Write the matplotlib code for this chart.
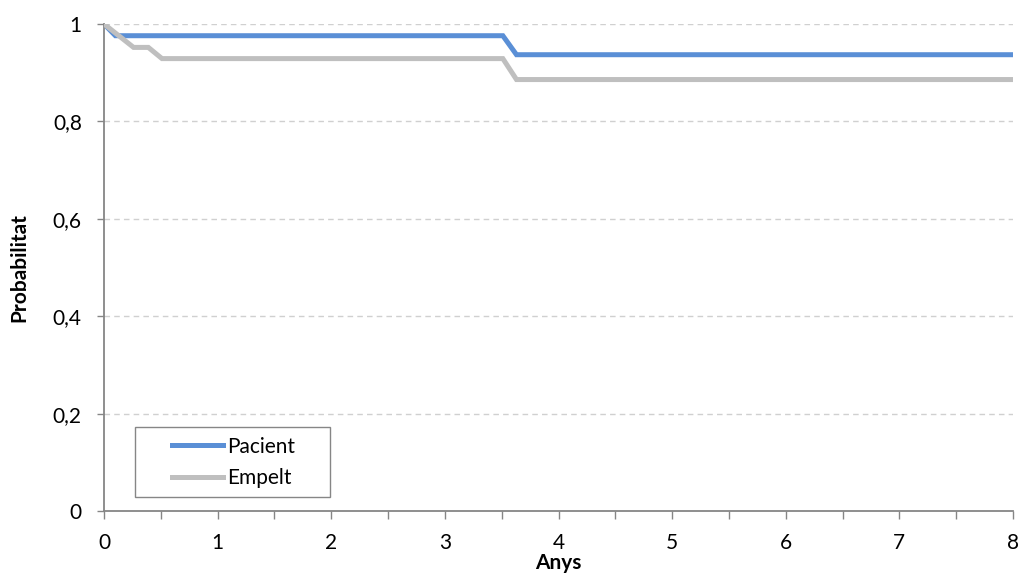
import numpy as np
import matplotlib.pyplot as plt
from matplotlib.patches import Rectangle

plt.rcParams['font.family'] = ['Lato', 'DejaVu Sans']

# Survival curves
pacient_x = [0, 0.1, 3.51, 3.63, 8]
pacient_y = [1, 0.976, 0.976, 0.937, 0.937]
empelt_x = [0, 0.26, 0.39, 0.51, 3.51, 3.63, 8]
empelt_y = [1, 0.952, 0.952, 0.929, 0.929, 0.886, 0.886]

x_ticks = [0, 1, 2, 3, 4, 5, 6, 7, 8]
y_ticks = [0, 0.2, 0.4, 0.6, 0.8, 1]
y_labels = ['0', '0,2', '0,4', '0,6', '0,8', '1']

axis_grey = '#868686'
fs = 15

fig = plt.figure(figsize=(10.22, 5.79), dpi=100)
ax = fig.add_axes([0.1018, 0.1174, 0.8894, 0.8411])

# grid first so lines sit on top
for v in y_ticks[1:]:
    ax.axhline(v, color='#d0d0d0', lw=1, ls=(0, (4, 3)), zorder=0)

ax.plot(pacient_x, pacient_y, color='#5a8fd6', lw=3.6, label='Pacient',
        solid_joinstyle='miter', zorder=2)
ax.plot(empelt_x, empelt_y, color='#bfbfbf', lw=3.6, label='Empelt',
        solid_joinstyle='miter', zorder=3)

ax.set_xlim(0, 8)
ax.set_ylim(0, 1)
ax.set_xticks(x_ticks)
ax.set_xticks(np.arange(0.5, 8, 1), minor=True)
ax.set_yticks(y_ticks)
ax.set_yticklabels(y_labels)

for s in ['top', 'right']:
    ax.spines[s].set_visible(False)
for s in ['left', 'bottom']:
    ax.spines[s].set_color(axis_grey)
    ax.spines[s].set_linewidth(1.3)

ax.tick_params(axis='x', which='both', direction='out', length=6, width=1,
               color=axis_grey, labelsize=fs, pad=10)
ax.tick_params(axis='y', direction='out', length=5, width=1,
               color=axis_grey, labelsize=fs, pad=11)

ax.set_xlabel('Anys', fontsize=fs, fontweight='bold', labelpad=0)
ax.set_ylabel('Probabilitat', fontsize=fs, fontweight='bold', labelpad=17)

# legend box like the spreadsheet one
ax.add_patch(Rectangle((0.0341, 0.0287), 0.2145, 0.1437, transform=ax.transAxes,
                       fill=True, facecolor='white', edgecolor=axis_grey,
                       lw=1, zorder=4))
leg = ax.legend(loc='upper left', bbox_to_anchor=(0.0748, 0.153), frameon=False,
                borderpad=0, borderaxespad=0, handlelength=2.45,
                handletextpad=0.2, labelspacing=0.55, fontsize=fs)
leg.set_zorder(5)

fig.savefig('out.png', dpi=100)
